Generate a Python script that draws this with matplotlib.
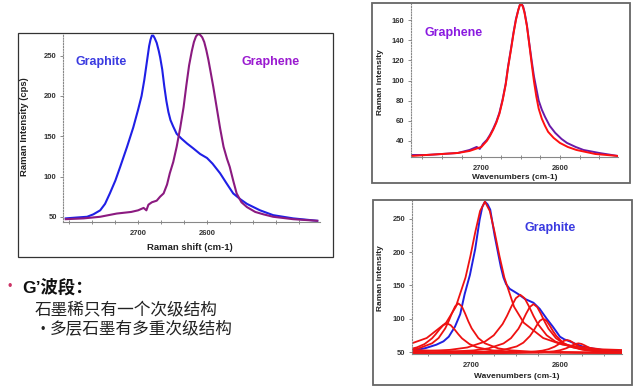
import matplotlib
matplotlib.use("Agg")
import matplotlib.pyplot as plt
from matplotlib.patches import Rectangle
from matplotlib.ticker import AutoMinorLocator

plt.rcParams['font.family'] = ['Liberation Sans', 'Noto Sans CJK SC', 'DejaVu Sans']

# ---- main panel: G' band of graphite vs graphene ----
main_graphite_wn = [2805, 2790, 2774, 2765, 2755, 2748, 2741, 2733, 2726, 2716, 2707, 2700, 2695,
                    2691, 2687, 2684, 2682, 2680, 2678, 2676, 2673, 2670, 2668, 2665, 2662, 2659,
                    2656, 2653, 2649, 2644, 2637, 2629, 2620, 2610, 2600, 2592, 2581, 2572, 2562,
                    2552, 2542, 2523, 2504, 2475, 2440]
main_graphite_int = [48, 49, 50, 53, 58, 66, 79, 95, 112, 137, 161, 183, 200,
                     220, 244, 262, 270, 275, 275, 272, 266, 256, 248, 233, 212, 194,
                     180, 170, 162, 153, 147, 141, 135, 128, 123, 116, 104, 92, 79,
                     72, 66, 58, 52, 48, 45]

main_graphene_wn = [2805, 2779, 2755, 2731, 2710, 2700, 2692, 2688, 2685, 2680, 2673, 2668, 2663,
                    2658, 2654, 2649, 2644, 2639, 2634, 2630, 2626, 2622, 2619, 2616, 2613, 2610,
                    2607, 2604, 2601, 2598, 2595, 2591, 2586, 2581, 2576, 2571, 2567, 2562, 2557,
                    2550, 2542, 2530, 2518, 2504, 2475, 2440]
main_graphene_int = [47, 48, 50, 54, 56, 58, 61, 58, 65, 68, 70, 75, 79,
                     90, 104, 118, 137, 160, 186, 213, 238, 256, 267, 274, 277, 276,
                     273, 267, 257, 245, 231, 212, 186, 160, 137, 122, 112, 95, 79,
                     68, 62, 56, 53, 50, 47, 45]

# ---- top right: graphene measured + single peak fit ----
tr_meas_wn = [2789, 2770, 2750, 2730, 2715, 2706, 2702, 2698, 2693, 2689, 2685, 2681, 2677,
              2673, 2669, 2666, 2662, 2659, 2656, 2653, 2651, 2649, 2647, 2645, 2642, 2639,
              2636, 2633, 2630, 2627, 2623, 2619, 2613, 2606, 2598, 2591, 2580, 2570, 2550, 2526]
tr_meas_int = [26, 26, 27, 28, 31, 34, 32, 37, 41, 46, 52, 59, 68,
               81, 97, 114, 133, 148, 161, 170, 175, 176, 174, 168, 155, 137,
               120, 104, 92, 80, 71, 64, 55, 48, 42, 38, 34, 31, 28, 25]
tr_fit_wn = [2789, 2770, 2750, 2730, 2715, 2700, 2693, 2689, 2685, 2681, 2677, 2673, 2669,
             2666, 2662, 2659, 2656, 2653, 2651, 2649, 2647, 2645, 2642, 2639, 2636, 2633,
             2630, 2627, 2623, 2619, 2615, 2608, 2600, 2590, 2579, 2555, 2526]
tr_fit_int = [25, 26, 27, 28, 30, 34, 40, 45, 51, 58, 67, 80, 96,
              113, 132, 147, 160, 170, 175, 176, 173, 167, 154, 136, 117, 99,
              84, 72, 62, 55, 49, 43, 38, 34, 31, 27, 25]

# ---- bottom right: graphite measured + component peaks ----
br_meas_wn = [2766, 2752, 2740, 2732, 2726, 2719, 2713, 2708, 2702, 2696, 2691, 2688, 2685,
              2682, 2679, 2674, 2670, 2667, 2664, 2661, 2657, 2652, 2646, 2640, 2635, 2630,
              2623, 2615, 2608, 2600, 2595, 2589, 2582, 2574, 2562, 2551, 2530]
br_meas_int = [52, 56, 61, 66, 73, 88, 107, 137, 166, 205, 249, 268, 276,
               272, 264, 225, 198, 178, 162, 152, 145, 141, 136, 130, 127, 124,
               115, 100, 88, 73, 69, 66, 62, 58, 55, 53, 51]

comp_main_wn = [2768, 2751, 2729, 2718, 2707, 2701.5, 2696, 2690.5, 2685, 2679.5, 2674, 2668.5,
                2663, 2652, 2641, 2619, 2597, 2553, 2530]
comp_main_int = [63, 71, 94, 118, 162, 194, 230, 262, 276, 262, 230, 194,
                 162, 118, 94, 71, 61, 54, 53]
comp_a_wn = [2768, 2760, 2745, 2737.5, 2730, 2726.2, 2722.5, 2718.8, 2715, 2711.2, 2707.5, 2703.8,
             2700, 2692.5, 2685, 2670, 2655, 2625, 2580, 2530]
comp_a_int = [53.6, 55.5, 63, 71, 85.5, 96, 108, 118.6, 123, 118.6, 108, 96,
              85.5, 71, 63, 55.5, 52.4, 50, 49, 48.5]
comp_b_wn = [2768, 2762, 2753.5, 2745, 2740.8, 2736.5, 2732.2, 2728, 2723.8, 2719.5, 2715.2, 2711,
             2702.5, 2694, 2677, 2660, 2626, 2530]
comp_b_int = [54.9, 57, 61.9, 70.5, 76.8, 84, 90.3, 93, 90.3, 84, 76.8, 70.5,
              61.9, 57, 52.5, 50.6, 49.2, 48.3]
comp_c_wn = [2768, 2725, 2705, 2685, 2675, 2665, 2660, 2655, 2650, 2645, 2640, 2635, 2630, 2625,
             2615, 2605, 2585, 2565, 2530]
comp_c_int = [50.3, 53.2, 56.8, 65.6, 75.1, 92, 104.3, 118.4, 130.8, 136, 130.8, 118.4, 104.3, 92,
              75.1, 65.6, 56.8, 53.2, 50.5]
comp_d_wn = [2768, 2732, 2698, 2681, 2664, 2655.5, 2647, 2642.8, 2638.5, 2634.2, 2630, 2625.8,
             2621.5, 2617.2, 2613, 2604.5, 2596, 2579, 2562, 2530]
comp_d_int = [49.1, 50, 52.4, 55.4, 62.8, 70.8, 85, 95.4, 107.2, 117.6, 122, 117.6,
              107.2, 95.4, 85, 70.8, 62.8, 55.4, 52.4, 50.1]
comp_e_wn = [2768, 2709, 2679, 2664, 2649, 2641.5, 2634, 2630.2, 2626.5, 2622.8, 2619, 2615.2,
             2611.5, 2607.8, 2604, 2596.5, 2589, 2574, 2559, 2530]
comp_e_int = [48.5, 49.4, 51, 53.2, 58.4, 64, 74, 81.3, 89.6, 96.9, 100, 96.9,
              89.6, 81.3, 74, 64, 58.4, 53.2, 51, 49.4]
comp_f_wn = [2768, 2676, 2648, 2634, 2620, 2613, 2606, 2602.5, 2599, 2595.5, 2592, 2588.5, 2585,
             2581.5, 2578, 2571, 2564, 2550, 2536, 2530]
comp_f_int = [48.2, 48.5, 49.2, 50, 52, 54.2, 58, 60.8, 64, 66.8, 68, 66.8, 64,
              60.8, 58, 54.2, 52, 50, 49.2, 49]
comp_g_wn = [2768, 2663, 2635, 2621, 2607, 2600, 2593, 2589.5, 2586, 2582.5, 2579, 2575.5, 2572,
             2568.5, 2565, 2558, 2551, 2537, 2530]
comp_g_int = [48.1, 48.4, 48.9, 49.5, 51, 52.6, 55.5, 57.6, 60, 62.1, 63, 62.1, 60,
              57.6, 55.5, 52.6, 51, 49.5, 49.2]
comp_base_wn = [2768, 2720, 2660, 2600, 2560, 2530]
comp_base_int = [53, 51, 50, 50, 49.5, 49]

components = [(comp_main_wn, comp_main_int), (comp_a_wn, comp_a_int), (comp_b_wn, comp_b_int),
              (comp_c_wn, comp_c_int), (comp_d_wn, comp_d_int), (comp_e_wn, comp_e_int),
              (comp_f_wn, comp_f_int), (comp_g_wn, comp_g_int), (comp_base_wn, comp_base_int)]

x_ticks = [2700, 2600]

W, H = 640, 388
fig = plt.figure(figsize=(W / 100, H / 100), dpi=100)
fig.patch.set_facecolor('white')


def rect(l, t, r, b):
    return [l / W, 1 - b / H, (r - l) / W, (b - t) / H]


def frame(l, t, r, b, color, lw):
    fig.add_artist(Rectangle((l / W, 1 - b / H), (r - l) / W, (b - t) / H,
                             transform=fig.transFigure, fill=False, ec=color, lw=lw))


def ftext(x, y, s, **kw):
    fig.text(x / W, 1 - y / H, s, **kw)


def style_axes(ax, minor_div):
    for side in ['top', 'right']:
        ax.spines[side].set_visible(False)
    ax.spines['left'].set_linestyle((0, (1, 1.5)))
    ax.spines['left'].set_color('#888888')
    ax.spines['bottom'].set_color('#888888')
    ax.spines['left'].set_linewidth(0.8)
    ax.spines['bottom'].set_linewidth(0.8)
    ax.set_xticks(x_ticks)
    ax.xaxis.set_minor_locator(AutoMinorLocator(minor_div))
    ax.tick_params(axis='x', which='both', direction='inout', length=3, width=0.6,
                   color='#777777', labelsize=5.5, pad=4)
    ax.tick_params(axis='y', which='major', direction='out', length=2.5, width=0.6,
                   color='#777777', labelsize=5.5, pad=2)
    for lab in ax.get_xticklabels() + ax.get_yticklabels():
        lab.set_fontweight('bold')
        lab.set_color('#333333')
    ax.set_facecolor('none')


# frames
frame(18, 33, 333, 257, '#333333', 0.9)
frame(372, 3, 630, 183, '#666666', 1.3)
frame(373, 200, 632, 385, '#666666', 1.3)

# main panel
ax1 = fig.add_axes(rect(63, 34, 320, 222))
ax1.plot(main_graphite_wn, main_graphite_int, color='#1f1fe6', lw=1.5)
ax1.plot(main_graphene_wn, main_graphene_int, color='#8b1a80', lw=1.5)
ax1.set_xlim(2809, 2436)
ax1.set_ylim(43.5, 277)
ax1.set_yticks([50, 100, 150, 200, 250])
style_axes(ax1, 3)
ftext(25, 127, 'Raman Intensity (cps)', rotation=90, ha='center', va='center',
      fontsize=6.8, fontweight='bold', color='#222222')
ftext(190, 248, 'Raman shift (cm-1)', ha='center', va='center',
      fontsize=6.8, fontweight='bold', color='#222222')
ftext(101, 62, 'Graphite', ha='center', va='center', fontsize=9, fontweight='bold', color='#3a3ae0')
ftext(271, 62, 'Graphene', ha='center', va='center', fontsize=9, fontweight='bold', color='#9a1ad0')

# top right panel
ax2 = fig.add_axes(rect(410.7, 4, 618, 157))
ax2.plot(tr_meas_wn, tr_meas_int, color='#6a1aa8', lw=1.4)
ax2.plot(tr_fit_wn, tr_fit_int, color='#ff1010', lw=1.4)
ax2.set_xlim(2790, 2526)
ax2.set_ylim(24, 176)
ax2.set_yticks([40, 60, 80, 100, 120, 140, 160])
style_axes(ax2, 4)
ftext(380, 82, 'Raman intensity', rotation=90, ha='center', va='center',
      fontsize=6, fontweight='bold', color='#222222')
ftext(515, 178, 'Wavenumbers (cm-1)', ha='center', va='center',
      fontsize=6, fontweight='bold', color='#222222')
ftext(454, 33, 'Graphene', ha='center', va='center', fontsize=9, fontweight='bold', color='#8a1ae0')

# bottom right panel
ax3 = fig.add_axes(rect(411.7, 201, 621.7, 354))
ax3.plot(br_meas_wn, br_meas_int, color='#2020e0', lw=1.4)
for wn, inten in components:
    ax3.plot(wn, inten, color='#ee1111', lw=1.3)
ax3.set_xlim(2768, 2530)
ax3.set_ylim(47, 277)
ax3.set_yticks([50, 100, 150, 200, 250])
style_axes(ax3, 4)
ftext(381, 278, 'Raman intensity', rotation=90, ha='center', va='center',
      fontsize=6, fontweight='bold', color='#222222')
ftext(517, 377, 'Wavenumbers (cm-1)', ha='center', va='center',
      fontsize=6, fontweight='bold', color='#222222')
ftext(550, 228, 'Graphite', ha='center', va='center', fontsize=9, fontweight='bold', color='#3a3ae0')

# bullet text
ftext(10, 287, '•', ha='center', va='center', fontsize=9, color='#cc3366')
ftext(22, 287, 'G’波段：', ha='left', va='center', fontsize=12.5, fontweight='bold', color='#111111')
ftext(35, 310, '石墨稀只有一个次级结构', ha='left', va='center', fontsize=12, color='#222222',
      family=['Noto Sans CJK SC'])
ftext(43, 330, '•', ha='center', va='center', fontsize=9, color='#222222')
ftext(50, 330, '多层石墨有多重次级结构', ha='left', va='center', fontsize=12, color='#222222',
      family=['Noto Sans CJK SC'])

fig.savefig('out.png', dpi=100)
